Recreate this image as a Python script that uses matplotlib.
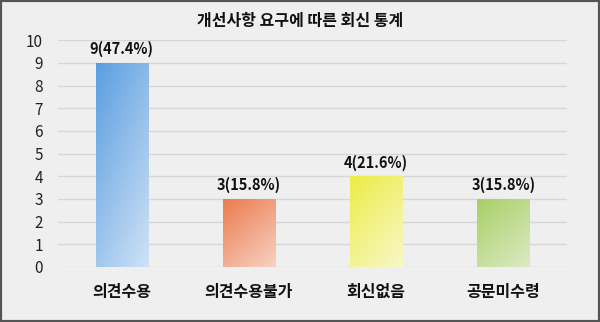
import matplotlib
matplotlib.use("Agg")
import matplotlib.pyplot as plt
import numpy as np
from matplotlib.colors import LinearSegmentedColormap
from matplotlib.patches import Rectangle

plt.rcParams['font.family'] = ['Noto Sans CJK KR', 'DejaVu Sans']

title = "개선사항 요구에 따른 회신 통계"
categories = ["의견수용", "의견수용불가", "회신없음", "공문미수령"]
values = [9, 3, 4, 3]
labels = ["9(47.4%)", "3(15.8%)", "4(21.6%)", "3(15.8%)"]
dark_colors = ["#5a9ee0", "#ec7a4e", "#ecec48", "#a8cf66"]
light_colors = ["#cfe2f6", "#f7d2c2", "#f8f8c8", "#dbeac4"]
yticks = list(range(0, 11))

fig = plt.figure(figsize=(6.0, 3.22), dpi=100)
fig.patch.set_facecolor("#efefef")
ax = fig.add_axes([0.097, 0.171, 0.848, 0.704])
ax.set_facecolor("#efefef")

x = np.arange(len(categories))
bars = ax.bar(x, values, width=0.41, color="none", edgecolor="none", zorder=3)

# gradient fills: top-left dark -> bottom-right light
gy, gx = np.mgrid[0:1:100j, 0:1:100j]
grad = 0.6 * gy + 0.4 * gx
for b, dc, lc in zip(bars, dark_colors, light_colors):
    cmap = LinearSegmentedColormap.from_list("g", [dc, lc])
    x0, y0 = b.get_x(), b.get_y()
    w, h = b.get_width(), b.get_height()
    im = ax.imshow(grad, cmap=cmap, extent=[x0, x0 + w, y0, y0 + h],
                   origin="upper", aspect="auto", zorder=3, vmin=0, vmax=1)
    im.set_clip_path(b)

for xi, v, lab in zip(x, values, labels):
    ax.text(xi, v + 0.25, lab, ha="center", va="bottom", fontsize=10.5,
            fontweight="bold", color="#111111", zorder=4)

ax.set_xlim(-0.5, 3.5)
ax.set_ylim(0, 10)
ax.set_yticks(yticks)
ax.set_yticklabels([str(t) for t in yticks], fontsize=11, color="#222222")
ax.set_xticks(x)
ax.set_xticklabels(categories, fontsize=11.5, fontweight="bold", color="#111111")
ax.tick_params(axis="both", length=0)
ax.tick_params(axis="y", pad=11)
ax.tick_params(axis="x", pad=12)
ax.grid(axis="y", color="#d6d6d6", linewidth=1.0, zorder=0)
ax.set_axisbelow(True)
for s in ax.spines.values():
    s.set_visible(False)

fig.text(0.5, 0.935, title, ha="center", va="center", fontsize=11.5,
         fontweight="bold", color="#111111")

fig.patches.append(Rectangle((0, 0), 1, 1, transform=fig.transFigure,
                             fill=False, edgecolor="#555555", linewidth=3))

fig.savefig("out.png", dpi=100, facecolor=fig.get_facecolor())
